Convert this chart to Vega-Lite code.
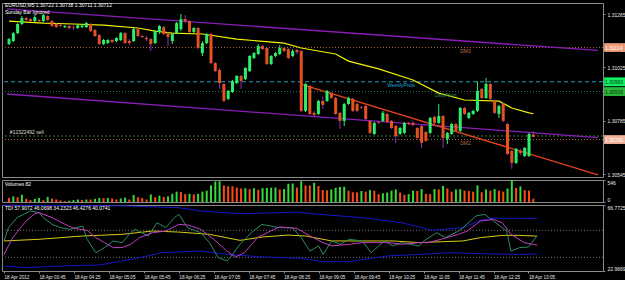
{
"$schema": "https://vega.github.io/schema/vega-lite/v6.json",
"background": "#000000",
"padding": {"left": 1, "top": 2, "right": 0, "bottom": 0},
"spacing": 3,
"bounds": "flush",
"resolve": {"scale": {"color": "independent"}},
"config": {
 "view": {"stroke": "#8a8a8a", "strokeWidth": 1},
 "font": "Liberation Sans",
 "axis": {"labelColor": "#e8e8e8", "labelFont": "Liberation Sans", "labelFontSize": 5, "tickColor": "#8a8a8a", "tickSize": 2, "domain": false, "grid": false, "title": null, "labelPadding": 2},
 "title": {"font": "Liberation Sans", "fontSize": 5, "fontWeight": "normal", "color": "#ffffff", "anchor": "start", "frame": "group", "dx": 3}
},
"datasets": {
 "bars": [
{"t":"2012-04-18T03:05","o":1.31130,"h":1.31157,"l":1.31125,"c":1.31152,"v":101},
{"t":"2012-04-18T03:10","o":1.31143,"h":1.31184,"l":1.31139,"c":1.31179,"v":140},
{"t":"2012-04-18T03:15","o":1.31179,"h":1.31224,"l":1.31175,"c":1.31220,"v":117},
{"t":"2012-04-18T03:20","o":1.31220,"h":1.31256,"l":1.31215,"c":1.31247,"v":179},
{"t":"2012-04-18T03:25","o":1.31247,"h":1.31251,"l":1.31233,"c":1.31238,"v":78},
{"t":"2012-04-18T03:30","o":1.31242,"h":1.31247,"l":1.31229,"c":1.31233,"v":47},
{"t":"2012-04-18T03:35","o":1.31233,"h":1.31260,"l":1.31229,"c":1.31251,"v":78},
{"t":"2012-04-18T03:40","o":1.31238,"h":1.31242,"l":1.31229,"c":1.31233,"v":101},
{"t":"2012-04-18T03:45","o":1.31233,"h":1.31265,"l":1.31229,"c":1.31260,"v":47},
{"t":"2012-04-18T03:50","o":1.31256,"h":1.31260,"l":1.31233,"c":1.31238,"v":125},
{"t":"2012-04-18T03:55","o":1.31233,"h":1.31238,"l":1.31206,"c":1.31211,"v":86},
{"t":"2012-04-18T04:00","o":1.31220,"h":1.31224,"l":1.31202,"c":1.31206,"v":62},
{"t":"2012-04-18T04:05","o":1.31215,"h":1.31220,"l":1.31206,"c":1.31211,"v":39},
{"t":"2012-04-18T04:10","o":1.31206,"h":1.31215,"l":1.31202,"c":1.31211,"v":23},
{"t":"2012-04-18T04:15","o":1.31211,"h":1.31215,"l":1.31197,"c":1.31202,"v":31},
{"t":"2012-04-18T04:20","o":1.31206,"h":1.31215,"l":1.31193,"c":1.31204,"v":47},
{"t":"2012-04-18T04:25","o":1.31202,"h":1.31220,"l":1.31197,"c":1.31215,"v":62},
{"t":"2012-04-18T04:30","o":1.31206,"h":1.31220,"l":1.31202,"c":1.31213,"v":47},
{"t":"2012-04-18T04:35","o":1.31206,"h":1.31229,"l":1.31202,"c":1.31224,"v":62},
{"t":"2012-04-18T04:40","o":1.31220,"h":1.31224,"l":1.31184,"c":1.31188,"v":62},
{"t":"2012-04-18T04:45","o":1.31193,"h":1.31197,"l":1.31161,"c":1.31166,"v":78},
{"t":"2012-04-18T04:50","o":1.31170,"h":1.31175,"l":1.31125,"c":1.31130,"v":101},
{"t":"2012-04-18T04:55","o":1.31130,"h":1.31152,"l":1.31125,"c":1.31148,"v":94},
{"t":"2012-04-18T05:00","o":1.31134,"h":1.31152,"l":1.31130,"c":1.31148,"v":101},
{"t":"2012-04-18T05:05","o":1.31148,"h":1.31152,"l":1.31134,"c":1.31139,"v":86},
{"t":"2012-04-18T05:10","o":1.31143,"h":1.31161,"l":1.31139,"c":1.31157,"v":62},
{"t":"2012-04-18T05:15","o":1.31148,"h":1.31184,"l":1.31143,"c":1.31179,"v":86},
{"t":"2012-04-18T05:20","o":1.31179,"h":1.31184,"l":1.31130,"c":1.31134,"v":109},
{"t":"2012-04-18T05:25","o":1.31143,"h":1.31152,"l":1.31125,"c":1.31134,"v":62},
{"t":"2012-04-18T05:30","o":1.31143,"h":1.31202,"l":1.31139,"c":1.31197,"v":172},
{"t":"2012-04-18T05:35","o":1.31197,"h":1.31202,"l":1.31161,"c":1.31166,"v":117},
{"t":"2012-04-18T05:40","o":1.31166,"h":1.31170,"l":1.31157,"c":1.31161,"v":101},
{"t":"2012-04-18T05:45","o":1.31157,"h":1.31166,"l":1.31143,"c":1.31152,"v":62},
{"t":"2012-04-18T05:50","o":1.31152,"h":1.31157,"l":1.31098,"c":1.31130,"v":187},
{"t":"2012-04-18T05:55","o":1.31134,"h":1.31193,"l":1.31130,"c":1.31188,"v":117},
{"t":"2012-04-18T06:00","o":1.31184,"h":1.31215,"l":1.31175,"c":1.31211,"v":156},
{"t":"2012-04-18T06:05","o":1.31206,"h":1.31211,"l":1.31170,"c":1.31175,"v":125},
{"t":"2012-04-18T06:10","o":1.31179,"h":1.31184,"l":1.31121,"c":1.31161,"v":140},
{"t":"2012-04-18T06:15","o":1.31143,"h":1.31179,"l":1.31130,"c":1.31175,"v":203},
{"t":"2012-04-18T06:20","o":1.31179,"h":1.31229,"l":1.31175,"c":1.31224,"v":257},
{"t":"2012-04-18T06:25","o":1.31197,"h":1.31265,"l":1.31188,"c":1.31242,"v":250},
{"t":"2012-04-18T06:30","o":1.31242,"h":1.31260,"l":1.31224,"c":1.31233,"v":195},
{"t":"2012-04-18T06:35","o":1.31233,"h":1.31238,"l":1.31179,"c":1.31184,"v":203},
{"t":"2012-04-18T06:40","o":1.31184,"h":1.31206,"l":1.31179,"c":1.31202,"v":187},
{"t":"2012-04-18T06:45","o":1.31202,"h":1.31206,"l":1.31107,"c":1.31112,"v":203},
{"t":"2012-04-18T06:50","o":1.31089,"h":1.31143,"l":1.31076,"c":1.31134,"v":257},
{"t":"2012-04-18T06:55","o":1.31134,"h":1.31179,"l":1.31130,"c":1.31175,"v":281},
{"t":"2012-04-18T07:00","o":1.31175,"h":1.31179,"l":1.31040,"c":1.31044,"v":413},
{"t":"2012-04-18T07:05","o":1.31044,"h":1.31049,"l":1.31004,"c":1.31008,"v":507},
{"t":"2012-04-18T07:10","o":1.31013,"h":1.31022,"l":1.30928,"c":1.30954,"v":515},
{"t":"2012-04-18T07:15","o":1.30950,"h":1.30954,"l":1.30869,"c":1.30874,"v":413},
{"t":"2012-04-18T07:20","o":1.30883,"h":1.30923,"l":1.30878,"c":1.30919,"v":390},
{"t":"2012-04-18T07:25","o":1.30914,"h":1.30968,"l":1.30910,"c":1.30963,"v":390},
{"t":"2012-04-18T07:30","o":1.30954,"h":1.30990,"l":1.30950,"c":1.30986,"v":359},
{"t":"2012-04-18T07:35","o":1.30986,"h":1.30990,"l":1.30928,"c":1.30963,"v":335},
{"t":"2012-04-18T07:40","o":1.30972,"h":1.31026,"l":1.30968,"c":1.31022,"v":340},
{"t":"2012-04-18T07:45","o":1.31008,"h":1.31080,"l":1.31004,"c":1.31076,"v":320},
{"t":"2012-04-18T07:50","o":1.31067,"h":1.31094,"l":1.31062,"c":1.31089,"v":343},
{"t":"2012-04-18T07:55","o":1.31085,"h":1.31130,"l":1.31080,"c":1.31121,"v":304},
{"t":"2012-04-18T08:00","o":1.31121,"h":1.31125,"l":1.31103,"c":1.31107,"v":343},
{"t":"2012-04-18T08:05","o":1.31112,"h":1.31116,"l":1.31035,"c":1.31040,"v":350},
{"t":"2012-04-18T08:10","o":1.31040,"h":1.31080,"l":1.31035,"c":1.31076,"v":355},
{"t":"2012-04-18T08:15","o":1.31076,"h":1.31094,"l":1.31071,"c":1.31089,"v":359},
{"t":"2012-04-18T08:20","o":1.31085,"h":1.31125,"l":1.31080,"c":1.31112,"v":312},
{"t":"2012-04-18T08:25","o":1.31112,"h":1.31116,"l":1.31094,"c":1.31098,"v":320},
{"t":"2012-04-18T08:30","o":1.31107,"h":1.31112,"l":1.31062,"c":1.31067,"v":453},
{"t":"2012-04-18T08:35","o":1.31076,"h":1.31107,"l":1.31071,"c":1.31098,"v":460},
{"t":"2012-04-18T08:40","o":1.31103,"h":1.31107,"l":1.31085,"c":1.31094,"v":359},
{"t":"2012-04-18T08:45","o":1.31098,"h":1.31103,"l":1.30824,"c":1.30829,"v":515},
{"t":"2012-04-18T08:50","o":1.30829,"h":1.30954,"l":1.30824,"c":1.30950,"v":413},
{"t":"2012-04-18T08:55","o":1.30941,"h":1.30946,"l":1.30811,"c":1.30815,"v":410},
{"t":"2012-04-18T09:00","o":1.30820,"h":1.30829,"l":1.30802,"c":1.30811,"v":476},
{"t":"2012-04-18T09:05","o":1.30815,"h":1.30878,"l":1.30811,"c":1.30874,"v":398},
{"t":"2012-04-18T09:10","o":1.30874,"h":1.30892,"l":1.30838,"c":1.30856,"v":296},
{"t":"2012-04-18T09:15","o":1.30874,"h":1.30923,"l":1.30869,"c":1.30919,"v":290},
{"t":"2012-04-18T09:20","o":1.30910,"h":1.30914,"l":1.30883,"c":1.30887,"v":312},
{"t":"2012-04-18T09:25","o":1.30887,"h":1.30892,"l":1.30811,"c":1.30815,"v":351},
{"t":"2012-04-18T09:30","o":1.30820,"h":1.30824,"l":1.30748,"c":1.30784,"v":374},
{"t":"2012-04-18T09:35","o":1.30784,"h":1.30865,"l":1.30761,"c":1.30860,"v":380},
{"t":"2012-04-18T09:40","o":1.30860,"h":1.30892,"l":1.30856,"c":1.30887,"v":281},
{"t":"2012-04-18T09:45","o":1.30883,"h":1.30887,"l":1.30824,"c":1.30829,"v":242},
{"t":"2012-04-18T09:50","o":1.30860,"h":1.30865,"l":1.30824,"c":1.30829,"v":240},
{"t":"2012-04-18T09:55","o":1.30847,"h":1.30851,"l":1.30838,"c":1.30844,"v":273},
{"t":"2012-04-18T10:00","o":1.30851,"h":1.30856,"l":1.30788,"c":1.30793,"v":257},
{"t":"2012-04-18T10:05","o":1.30784,"h":1.30788,"l":1.30725,"c":1.30730,"v":296},
{"t":"2012-04-18T10:10","o":1.30725,"h":1.30779,"l":1.30721,"c":1.30775,"v":281},
{"t":"2012-04-18T10:15","o":1.30779,"h":1.30784,"l":1.30770,"c":1.30776,"v":195},
{"t":"2012-04-18T10:20","o":1.30784,"h":1.30829,"l":1.30779,"c":1.30820,"v":218},
{"t":"2012-04-18T10:25","o":1.30815,"h":1.30820,"l":1.30775,"c":1.30779,"v":234},
{"t":"2012-04-18T10:30","o":1.30784,"h":1.30788,"l":1.30748,"c":1.30752,"v":281},
{"t":"2012-04-18T10:35","o":1.30761,"h":1.30766,"l":1.30685,"c":1.30716,"v":312},
{"t":"2012-04-18T10:40","o":1.30725,"h":1.30757,"l":1.30721,"c":1.30752,"v":234},
{"t":"2012-04-18T10:45","o":1.30730,"h":1.30779,"l":1.30725,"c":1.30775,"v":179},
{"t":"2012-04-18T10:50","o":1.30775,"h":1.30779,"l":1.30766,"c":1.30770,"v":195},
{"t":"2012-04-18T10:55","o":1.30775,"h":1.30784,"l":1.30761,"c":1.30766,"v":281},
{"t":"2012-04-18T11:00","o":1.30752,"h":1.30757,"l":1.30703,"c":1.30707,"v":275},
{"t":"2012-04-18T11:05","o":1.30761,"h":1.30766,"l":1.30662,"c":1.30685,"v":320},
{"t":"2012-04-18T11:10","o":1.30734,"h":1.30739,"l":1.30689,"c":1.30694,"v":203},
{"t":"2012-04-18T11:15","o":1.30730,"h":1.30802,"l":1.30725,"c":1.30797,"v":195},
{"t":"2012-04-18T11:20","o":1.30802,"h":1.30806,"l":1.30770,"c":1.30775,"v":320},
{"t":"2012-04-18T11:25","o":1.30775,"h":1.30860,"l":1.30770,"c":1.30806,"v":312},
{"t":"2012-04-18T11:30","o":1.30806,"h":1.30811,"l":1.30662,"c":1.30707,"v":398},
{"t":"2012-04-18T11:35","o":1.30703,"h":1.30734,"l":1.30680,"c":1.30730,"v":335},
{"t":"2012-04-18T11:40","o":1.30725,"h":1.30775,"l":1.30721,"c":1.30770,"v":257},
{"t":"2012-04-18T11:45","o":1.30770,"h":1.30775,"l":1.30734,"c":1.30739,"v":312},
{"t":"2012-04-18T11:50","o":1.30739,"h":1.30847,"l":1.30734,"c":1.30842,"v":318},
{"t":"2012-04-18T11:55","o":1.30842,"h":1.30847,"l":1.30811,"c":1.30815,"v":281},
{"t":"2012-04-18T12:00","o":1.30797,"h":1.30824,"l":1.30793,"c":1.30820,"v":275},
{"t":"2012-04-18T12:05","o":1.30815,"h":1.30833,"l":1.30811,"c":1.30829,"v":257},
{"t":"2012-04-18T12:10","o":1.30829,"h":1.30963,"l":1.30824,"c":1.30919,"v":413},
{"t":"2012-04-18T12:15","o":1.30928,"h":1.30932,"l":1.30883,"c":1.30887,"v":242},
{"t":"2012-04-18T12:20","o":1.30887,"h":1.30977,"l":1.30883,"c":1.30950,"v":312},
{"t":"2012-04-18T12:25","o":1.30950,"h":1.30954,"l":1.30878,"c":1.30883,"v":281},
{"t":"2012-04-18T12:30","o":1.30874,"h":1.30878,"l":1.30815,"c":1.30820,"v":320},
{"t":"2012-04-18T12:35","o":1.30815,"h":1.30856,"l":1.30797,"c":1.30851,"v":281},
{"t":"2012-04-18T12:40","o":1.30860,"h":1.30865,"l":1.30779,"c":1.30784,"v":257},
{"t":"2012-04-18T12:45","o":1.30770,"h":1.30775,"l":1.30631,"c":1.30635,"v":335},
{"t":"2012-04-18T12:50","o":1.30649,"h":1.30653,"l":1.30568,"c":1.30595,"v":546},
{"t":"2012-04-18T12:55","o":1.30595,"h":1.30662,"l":1.30590,"c":1.30658,"v":351},
{"t":"2012-04-18T13:00","o":1.30649,"h":1.30658,"l":1.30631,"c":1.30640,"v":390},
{"t":"2012-04-18T13:05","o":1.30626,"h":1.30667,"l":1.30622,"c":1.30662,"v":296},
{"t":"2012-04-18T13:10","o":1.30626,"h":1.30730,"l":1.30622,"c":1.30725,"v":281},
{"t":"2012-04-18T13:15","o":1.30722,"h":1.30738,"l":1.30711,"c":1.30712,"v":82}
 ],
 "ma": [
{"t":"2012-04-18T03:05","p":1.31233},{"t":"2012-04-18T03:45","p":1.31224},{"t":"2012-04-18T04:20","p":1.31220},
{"t":"2012-04-18T04:55","p":1.31215},{"t":"2012-04-18T05:35","p":1.31202},{"t":"2012-04-18T05:55","p":1.31188},
{"t":"2012-04-18T06:15","p":1.31179},{"t":"2012-04-18T06:50","p":1.31175},{"t":"2012-04-18T07:30","p":1.31152},
{"t":"2012-04-18T08:25","p":1.31134},{"t":"2012-04-18T08:45","p":1.31112},{"t":"2012-04-18T09:25","p":1.31085},
{"t":"2012-04-18T09:40","p":1.31053},{"t":"2012-04-18T10:15","p":1.31018},{"t":"2012-04-18T10:55","p":1.30968},
{"t":"2012-04-18T11:25","p":1.30909},{"t":"2012-04-18T11:55","p":1.30878},{"t":"2012-04-18T12:35","p":1.30873},
{"t":"2012-04-18T12:50","p":1.30842},{"t":"2012-04-18T13:10","p":1.30820},{"t":"2012-04-18T13:15","p":1.30816}
 ],
 "trends": [
{"name":"upper","t":"2012-04-18T03:02:40","p":1.31288,"t2":"2012-04-18T14:30:16","p2":1.31101},
{"name":"lower","t":"2012-04-18T03:02:40","p":1.30905,"t2":"2012-04-18T14:30:16","p2":1.30709},
{"name":"down","t":"2012-04-18T08:47:00","p":1.30946,"t2":"2012-04-18T14:30:16","p2":1.30541}
 ],
 "levels": [
{"name":"DM3","p":1.31114},
{"name":"WeeklyPivot","p":1.30960},
{"name":"DailyPivot","p":1.30916},
{"name":"Sell","p":1.30716},
{"name":"DM2","p":1.30700}
 ],
 "notes": [
{"kind":"dm","t":"2012-04-18T11:50","p":1.31114,"label":"DM3"},
{"kind":"dm","t":"2012-04-18T11:50","p":1.30700,"label":"DM2"},
{"kind":"wp","t":"2012-04-18T10:25","p":1.30960,"label":"WeeklyPivot"},
{"kind":"dp","t":"2012-04-18T11:20","p":1.30916,"label":"DailyPivot"},
{"kind":"sell","t":"2012-04-18T03:06","p":1.30716,"label":"#12322492 sell"}
 ],
 "tdi": [
{"t":"2012-04-18T03:05","s":"upper","v":66.6},{"t":"2012-04-18T04:10","s":"upper","v":66.4},{"t":"2012-04-18T05:20","s":"upper","v":66.2},
{"t":"2012-04-18T06:25","s":"upper","v":65.0},{"t":"2012-04-18T06:50","s":"upper","v":62.8},{"t":"2012-04-18T07:35","s":"upper","v":61.0},
{"t":"2012-04-18T08:20","s":"upper","v":61.7},{"t":"2012-04-18T08:40","s":"upper","v":62.1},{"t":"2012-04-18T09:05","s":"upper","v":60.6},
{"t":"2012-04-18T09:55","s":"upper","v":58.4},{"t":"2012-04-18T10:40","s":"upper","v":55.0},{"t":"2012-04-18T11:15","s":"upper","v":50.0},
{"t":"2012-04-18T11:50","s":"upper","v":51.7},{"t":"2012-04-18T12:10","s":"upper","v":56.6},{"t":"2012-04-18T12:25","s":"upper","v":58.0},
{"t":"2012-04-18T13:15","s":"upper","v":57.9},
{"t":"2012-04-18T03:05","s":"lower","v":26.3},{"t":"2012-04-18T03:30","s":"lower","v":25.2},{"t":"2012-04-18T04:10","s":"lower","v":26.3},
{"t":"2012-04-18T04:55","s":"lower","v":27.0},{"t":"2012-04-18T05:20","s":"lower","v":29.6},{"t":"2012-04-18T05:40","s":"lower","v":31.8},
{"t":"2012-04-18T06:05","s":"lower","v":35.1},{"t":"2012-04-18T06:50","s":"lower","v":36.2},{"t":"2012-04-18T07:20","s":"lower","v":34.0},
{"t":"2012-04-18T08:00","s":"lower","v":32.3},{"t":"2012-04-18T08:45","s":"lower","v":31.4},{"t":"2012-04-18T09:10","s":"lower","v":29.1},
{"t":"2012-04-18T09:40","s":"lower","v":29.1},{"t":"2012-04-18T10:05","s":"lower","v":31.4},{"t":"2012-04-18T10:25","s":"lower","v":33.0},
{"t":"2012-04-18T11:00","s":"lower","v":34.0},{"t":"2012-04-18T11:35","s":"lower","v":35.1},{"t":"2012-04-18T12:10","s":"lower","v":34.5},
{"t":"2012-04-18T12:45","s":"lower","v":34.0},{"t":"2012-04-18T13:15","s":"lower","v":34.2},
{"t":"2012-04-18T03:05","s":"base","v":42.9},{"t":"2012-04-18T03:45","s":"base","v":44.0},{"t":"2012-04-18T04:35","s":"base","v":46.2},
{"t":"2012-04-18T05:20","s":"base","v":47.3},{"t":"2012-04-18T05:55","s":"base","v":49.5},{"t":"2012-04-18T06:25","s":"base","v":48.8},
{"t":"2012-04-18T07:00","s":"base","v":47.3},{"t":"2012-04-18T07:35","s":"base","v":43.3},{"t":"2012-04-18T08:00","s":"base","v":45.5},
{"t":"2012-04-18T08:30","s":"base","v":46.8},{"t":"2012-04-18T08:50","s":"base","v":46.2},{"t":"2012-04-18T09:20","s":"base","v":42.9},
{"t":"2012-04-18T09:55","s":"base","v":42.9},{"t":"2012-04-18T10:30","s":"base","v":42.9},{"t":"2012-04-18T11:00","s":"base","v":41.8},
{"t":"2012-04-18T11:25","s":"base","v":42.4},{"t":"2012-04-18T11:50","s":"base","v":42.9},{"t":"2012-04-18T12:10","s":"base","v":45.1},
{"t":"2012-04-18T12:35","s":"base","v":46.6},{"t":"2012-04-18T12:55","s":"base","v":46.6},{"t":"2012-04-18T13:15","s":"base","v":46.1},
{"t":"2012-04-18T03:05","s":"rsi","v":42.9},{"t":"2012-04-18T03:10","s":"rsi","v":51.7},{"t":"2012-04-18T03:20","s":"rsi","v":58.4},
{"t":"2012-04-18T03:35","s":"rsi","v":62.8},{"t":"2012-04-18T03:45","s":"rsi","v":61.7},{"t":"2012-04-18T03:50","s":"rsi","v":58.4},
{"t":"2012-04-18T04:00","s":"rsi","v":53.9},{"t":"2012-04-18T04:10","s":"rsi","v":51.7},{"t":"2012-04-18T04:20","s":"rsi","v":50.6},
{"t":"2012-04-18T04:35","s":"rsi","v":52.8},{"t":"2012-04-18T04:40","s":"rsi","v":44.0},{"t":"2012-04-18T04:50","s":"rsi","v":35.1},
{"t":"2012-04-18T05:00","s":"rsi","v":38.5},{"t":"2012-04-18T05:10","s":"rsi","v":42.9},{"t":"2012-04-18T05:20","s":"rsi","v":41.8},
{"t":"2012-04-18T05:30","s":"rsi","v":48.4},{"t":"2012-04-18T05:35","s":"rsi","v":50.6},{"t":"2012-04-18T05:50","s":"rsi","v":46.2},
{"t":"2012-04-18T06:00","s":"rsi","v":55.0},{"t":"2012-04-18T06:10","s":"rsi","v":51.7},{"t":"2012-04-18T06:20","s":"rsi","v":58.4},
{"t":"2012-04-18T06:25","s":"rsi","v":60.6},{"t":"2012-04-18T06:35","s":"rsi","v":51.7},{"t":"2012-04-18T06:50","s":"rsi","v":48.4},
{"t":"2012-04-18T07:00","s":"rsi","v":41.8},{"t":"2012-04-18T07:10","s":"rsi","v":31.8},{"t":"2012-04-18T07:20","s":"rsi","v":29.6},
{"t":"2012-04-18T07:25","s":"rsi","v":32.9},{"t":"2012-04-18T07:35","s":"rsi","v":40.7},{"t":"2012-04-18T07:50","s":"rsi","v":49.5},
{"t":"2012-04-18T08:00","s":"rsi","v":53.9},{"t":"2012-04-18T08:10","s":"rsi","v":52.8},{"t":"2012-04-18T08:20","s":"rsi","v":51.7},
{"t":"2012-04-18T08:35","s":"rsi","v":51.7},{"t":"2012-04-18T08:45","s":"rsi","v":45.1},{"t":"2012-04-18T08:55","s":"rsi","v":36.2},
{"t":"2012-04-18T09:05","s":"rsi","v":39.6},{"t":"2012-04-18T09:10","s":"rsi","v":34.0},{"t":"2012-04-18T09:20","s":"rsi","v":42.9},
{"t":"2012-04-18T09:30","s":"rsi","v":40.7},{"t":"2012-04-18T09:40","s":"rsi","v":44.0},{"t":"2012-04-18T09:55","s":"rsi","v":42.9},
{"t":"2012-04-18T10:05","s":"rsi","v":35.1},{"t":"2012-04-18T10:20","s":"rsi","v":42.9},{"t":"2012-04-18T10:30","s":"rsi","v":39.6},
{"t":"2012-04-18T10:40","s":"rsi","v":41.8},{"t":"2012-04-18T11:00","s":"rsi","v":39.6},{"t":"2012-04-18T11:05","s":"rsi","v":42.9},
{"t":"2012-04-18T11:20","s":"rsi","v":48.4},{"t":"2012-04-18T11:30","s":"rsi","v":45.1},{"t":"2012-04-18T11:45","s":"rsi","v":49.5},
{"t":"2012-04-18T11:50","s":"rsi","v":51.7},{"t":"2012-04-18T12:05","s":"rsi","v":59.5},{"t":"2012-04-18T12:15","s":"rsi","v":60.6},
{"t":"2012-04-18T12:25","s":"rsi","v":56.1},{"t":"2012-04-18T12:40","s":"rsi","v":49.5},{"t":"2012-04-18T12:45","s":"rsi","v":36.2},
{"t":"2012-04-18T12:55","s":"rsi","v":38.5},{"t":"2012-04-18T13:05","s":"rsi","v":38.9},{"t":"2012-04-18T13:15","s":"rsi","v":46.4},
{"t":"2012-04-18T03:05","s":"signal","v":34.0},{"t":"2012-04-18T03:15","s":"signal","v":45.1},{"t":"2012-04-18T03:30","s":"signal","v":56.1},
{"t":"2012-04-18T03:40","s":"signal","v":61.0},{"t":"2012-04-18T03:45","s":"signal","v":61.7},{"t":"2012-04-18T04:00","s":"signal","v":58.4},
{"t":"2012-04-18T04:15","s":"signal","v":53.9},{"t":"2012-04-18T04:25","s":"signal","v":51.3},{"t":"2012-04-18T04:40","s":"signal","v":49.9},
{"t":"2012-04-18T04:50","s":"signal","v":45.1},{"t":"2012-04-18T05:00","s":"signal","v":41.8},{"t":"2012-04-18T05:10","s":"signal","v":38.5},
{"t":"2012-04-18T05:20","s":"signal","v":38.5},{"t":"2012-04-18T05:30","s":"signal","v":40.7},{"t":"2012-04-18T05:40","s":"signal","v":45.1},
{"t":"2012-04-18T05:55","s":"signal","v":48.4},{"t":"2012-04-18T06:10","s":"signal","v":49.5},{"t":"2012-04-18T06:25","s":"signal","v":53.9},
{"t":"2012-04-18T06:35","s":"signal","v":53.5},{"t":"2012-04-18T06:50","s":"signal","v":50.6},{"t":"2012-04-18T07:05","s":"signal","v":44.0},
{"t":"2012-04-18T07:20","s":"signal","v":36.2},{"t":"2012-04-18T07:30","s":"signal","v":32.3},{"t":"2012-04-18T07:40","s":"signal","v":35.1},
{"t":"2012-04-18T07:55","s":"signal","v":45.1},{"t":"2012-04-18T08:10","s":"signal","v":49.5},{"t":"2012-04-18T08:20","s":"signal","v":52.2},
{"t":"2012-04-18T08:40","s":"signal","v":51.3},{"t":"2012-04-18T08:55","s":"signal","v":46.2},{"t":"2012-04-18T09:10","s":"signal","v":41.8},
{"t":"2012-04-18T09:20","s":"signal","v":39.6},{"t":"2012-04-18T09:40","s":"signal","v":40.7},{"t":"2012-04-18T09:55","s":"signal","v":41.8},
{"t":"2012-04-18T10:10","s":"signal","v":41.8},{"t":"2012-04-18T10:25","s":"signal","v":41.8},{"t":"2012-04-18T10:40","s":"signal","v":40.7},
{"t":"2012-04-18T11:00","s":"signal","v":41.8},{"t":"2012-04-18T11:10","s":"signal","v":41.8},{"t":"2012-04-18T11:25","s":"signal","v":44.0},
{"t":"2012-04-18T11:45","s":"signal","v":47.3},{"t":"2012-04-18T11:55","s":"signal","v":49.5},{"t":"2012-04-18T12:10","s":"signal","v":56.1},
{"t":"2012-04-18T12:25","s":"signal","v":57.2},{"t":"2012-04-18T12:35","s":"signal","v":55.0},{"t":"2012-04-18T12:45","s":"signal","v":47.3},
{"t":"2012-04-18T13:00","s":"signal","v":41.8},{"t":"2012-04-18T13:15","s":"signal","v":40.1}
 ]
},
"vconcat": [
 {
  "width": 601, "height": 174,
  "title": {"text": ["EURUSD,M5  1.30722 1.30738 1.30711 1.30712", "Sunday Bar Ignored"], "offset": -12, "lineHeight": 7},
  "resolve": {"scale": {"color": "independent"}},
  "layer": [
   {"data": {"name": "levels"}, "transform": [{"filter": "datum.name == 'DM3' || datum.name == 'DM2'"}],
    "mark": {"type": "rule", "color": "#b06a48", "strokeDash": [1, 2], "strokeWidth": 1},
    "encoding": {"y": {"field": "p", "type": "quantitative", "scale": {"domain": [1.305315, 1.313145], "zero": false, "nice": false},
      "axis": {"orient": "right", "values": [1.31265, 1.31185, 1.31025, 1.30865, 1.30785, 1.30625, 1.30545], "format": ".5f"}}}},
   {"data": {"name": "levels"}, "transform": [{"filter": "datum.name == 'WeeklyPivot'"}],
    "mark": {"type": "rule", "color": "#1f9fc4", "strokeDash": [4, 3], "strokeWidth": 1},
    "encoding": {"y": {"field": "p", "type": "quantitative"}}},
   {"data": {"name": "levels"}, "transform": [{"filter": "datum.name == 'DailyPivot'"}],
    "mark": {"type": "rule", "color": "#2a7a5a", "strokeDash": [1, 2], "strokeWidth": 1},
    "encoding": {"y": {"field": "p", "type": "quantitative"}}},
   {"data": {"name": "levels"}, "transform": [{"filter": "datum.name == 'Sell'"}],
    "mark": {"type": "rule", "color": "#3f7a3a", "strokeDash": [2, 2], "strokeWidth": 1},
    "encoding": {"y": {"field": "p", "type": "quantitative"}}},
   {"data": {"name": "trends"}, "transform": [{"filter": "datum.name != 'down'"}],
    "mark": {"type": "rule", "strokeWidth": 1.3, "clip": true, "color": "#8a1cb8"},
    "encoding": {
     "x": {"field": "t", "type": "temporal", "scale": {"domain": [{"year": 2012, "month": 4, "date": 18, "hours": 3, "minutes": 2, "seconds": 40}, {"year": 2012, "month": 4, "date": 18, "hours": 14, "minutes": 30, "seconds": 16}]}, "axis": null},
     "x2": {"field": "t2"},
     "y": {"field": "p", "type": "quantitative"},
     "y2": {"field": "p2"}}},
   {"data": {"name": "trends"}, "transform": [{"filter": "datum.name == 'down'"}],
    "mark": {"type": "rule", "strokeWidth": 1.3, "clip": true, "color": "#e8441c"},
    "encoding": {
     "x": {"field": "t", "type": "temporal"},
     "x2": {"field": "t2"},
     "y": {"field": "p", "type": "quantitative"},
     "y2": {"field": "p2"}}},
   {"data": {"name": "ma"},
    "mark": {"type": "line", "color": "#f2f200", "strokeWidth": 1.2},
    "encoding": {"x": {"field": "t", "type": "temporal"}, "y": {"field": "p", "type": "quantitative"}}},
   {"data": {"name": "bars"},
    "mark": {"type": "rule", "strokeWidth": 1},
    "encoding": {
     "x": {"field": "t", "type": "temporal"},
     "y": {"field": "l", "type": "quantitative"}, "y2": {"field": "h"},
     "color": {"condition": {"test": "datum.c >= datum.o", "value": "#2bef6a"}, "value": "#9a2cc0"}}},
   {"data": {"name": "bars"},
    "mark": {"type": "bar", "width": 3},
    "encoding": {
     "x": {"field": "t", "type": "temporal"},
     "y": {"field": "o", "type": "quantitative"}, "y2": {"field": "c"},
     "color": {"condition": {"test": "datum.c >= datum.o", "value": "#2bef6a"}, "value": "#e4521e"}}},
   {"data": {"name": "notes"}, "transform": [{"filter": "datum.kind == 'dm'"}],
    "mark": {"type": "text", "align": "left", "baseline": "top", "dy": 1.5, "fontSize": 5, "color": "#b8704a"},
    "encoding": {"x": {"field": "t", "type": "temporal"}, "y": {"field": "p", "type": "quantitative"}, "text": {"field": "label"}}},
   {"data": {"name": "notes"}, "transform": [{"filter": "datum.kind == 'wp'"}],
    "mark": {"type": "text", "align": "left", "baseline": "top", "dy": 1.5, "fontSize": 5, "color": "#22a4d2"},
    "encoding": {"x": {"field": "t", "type": "temporal"}, "y": {"field": "p", "type": "quantitative"}, "text": {"field": "label"}}},
   {"data": {"name": "notes"}, "transform": [{"filter": "datum.kind == 'dp'"}],
    "mark": {"type": "text", "align": "left", "baseline": "top", "dy": 1.5, "fontSize": 5, "color": "#2e8b57"},
    "encoding": {"x": {"field": "t", "type": "temporal"}, "y": {"field": "p", "type": "quantitative"}, "text": {"field": "label"}}},
   {"data": {"name": "notes"}, "transform": [{"filter": "datum.kind == 'sell'"}],
    "mark": {"type": "text", "align": "left", "baseline": "bottom", "dy": -1, "fontSize": 5, "color": "#dcdcdc"},
    "encoding": {"x": {"field": "t", "type": "temporal"}, "y": {"field": "p", "type": "quantitative"}, "text": {"field": "label"}}},
   {"data": {"name": "levels"}, "transform": [{"filter": "datum.name != 'Sell'"}],
    "mark": {"type": "point", "filled": true, "opacity": 1, "size": 484, "strokeWidth": 0, "shape": "M0.1,-0.4L2.1,-0.4L2.1,0.4L0.1,0.4Z"},
    "encoding": {
     "x": {"value": "width"}, "y": {"field": "p", "type": "quantitative"},
     "color": {"field": "name", "type": "nominal", "scale": {"domain": ["DM3", "WeeklyPivot", "DailyPivot", "DM2"], "range": ["#ec9a78", "#10f060", "#2cb83c", "#f3b49a"]}, "legend": null}}},
   {"data": {"name": "levels"}, "transform": [{"filter": "datum.name != 'Sell'"}],
    "mark": {"type": "text", "align": "left", "baseline": "middle", "dx": 2, "fontSize": 5},
    "encoding": {
     "x": {"value": "width"}, "y": {"field": "p", "type": "quantitative"},
     "text": {"field": "p", "type": "quantitative", "format": ".5f"},
     "color": {"field": "name", "type": "nominal", "scale": {"domain": ["DM3", "WeeklyPivot", "DailyPivot", "DM2"], "range": ["#ffffff", "#003010", "#002a08", "#ffffff"]}, "legend": null}}}
  ]
 },
 {
  "width": 601, "height": 22,
  "title": {"text": "Volumes 82", "offset": -7},
  "data": {"name": "bars"},
  "transform": [{"window": [{"op": "lag", "field": "v", "as": "pv"}], "sort": [{"field": "t"}]}],
  "mark": {"type": "bar", "width": 2},
  "encoding": {
   "x": {"field": "t", "type": "temporal", "scale": {"domain": [{"year": 2012, "month": 4, "date": 18, "hours": 3, "minutes": 2, "seconds": 40}, {"year": 2012, "month": 4, "date": 18, "hours": 14, "minutes": 30, "seconds": 16}]}, "axis": null},
   "y": {"field": "v", "type": "quantitative", "scale": {"domain": [0, 546], "nice": false}, "axis": {"orient": "right", "values": [0, 546], "labelFlush": true}},
   "color": {"condition": {"test": "datum.pv != null && datum.v > datum.pv", "value": "#36d93a"}, "value": "#ff4a12"}
  }
 },
 {
  "width": 601, "height": 66,
  "title": {"text": "TDI 57.9072 46.0698 34.2323 46.4276 40.0741", "offset": -8},
  "resolve": {"scale": {"color": "independent"}},
  "layer": [
   {"data": {"values": [{"level": 50}, {"level": 32}]},
    "mark": {"type": "rule", "color": "#707070", "strokeDash": [1, 2], "strokeWidth": 1},
    "encoding": {"y": {"field": "level", "type": "quantitative", "scale": {"domain": [22.9669, 66.7725], "nice": false, "zero": false},
      "axis": {"orient": "right", "values": [66.7725, 50, 32, 22.9669], "labelFlush": true, "labelExpr": "datum.value == 50 ? '50' : datum.value == 32 ? '32' : format(datum.value, '.4f')"}}}},
   {"data": {"name": "tdi"},
    "mark": {"type": "line", "strokeWidth": 1},
    "encoding": {
     "x": {"field": "t", "type": "temporal", "scale": {"domain": [{"year": 2012, "month": 4, "date": 18, "hours": 3, "minutes": 2, "seconds": 40}, {"year": 2012, "month": 4, "date": 18, "hours": 14, "minutes": 30, "seconds": 16}]},
      "axis": {"orient": "bottom", "labelAlign": "left", "labelFontSize": 4.6, "labelPadding": 1, "tickSize": 2,
       "values": [
        {"year": 2012, "month": 4, "date": 18, "hours": 3, "minutes": 5},
        {"year": 2012, "month": 4, "date": 18, "hours": 3, "minutes": 45},
        {"year": 2012, "month": 4, "date": 18, "hours": 4, "minutes": 25},
        {"year": 2012, "month": 4, "date": 18, "hours": 5, "minutes": 5},
        {"year": 2012, "month": 4, "date": 18, "hours": 5, "minutes": 45},
        {"year": 2012, "month": 4, "date": 18, "hours": 6, "minutes": 25},
        {"year": 2012, "month": 4, "date": 18, "hours": 7, "minutes": 5},
        {"year": 2012, "month": 4, "date": 18, "hours": 7, "minutes": 45},
        {"year": 2012, "month": 4, "date": 18, "hours": 8, "minutes": 25},
        {"year": 2012, "month": 4, "date": 18, "hours": 9, "minutes": 5},
        {"year": 2012, "month": 4, "date": 18, "hours": 9, "minutes": 45},
        {"year": 2012, "month": 4, "date": 18, "hours": 10, "minutes": 25},
        {"year": 2012, "month": 4, "date": 18, "hours": 11, "minutes": 5},
        {"year": 2012, "month": 4, "date": 18, "hours": 11, "minutes": 45},
        {"year": 2012, "month": 4, "date": 18, "hours": 12, "minutes": 25},
        {"year": 2012, "month": 4, "date": 18, "hours": 13, "minutes": 5}],
       "labelExpr": "datum.index == 0 ? '18 Apr 2012' : timeFormat(datum.value, '%d %b %H:%M')"}},
     "y": {"field": "v", "type": "quantitative"},
     "color": {"field": "s", "type": "nominal", "scale": {"domain": ["upper", "lower", "base", "rsi", "signal"], "range": ["#1616c8", "#1616c8", "#d8cc10", "#2e8b66", "#c23cc2"]}, "legend": null}}}
  ]
 }
]
}
